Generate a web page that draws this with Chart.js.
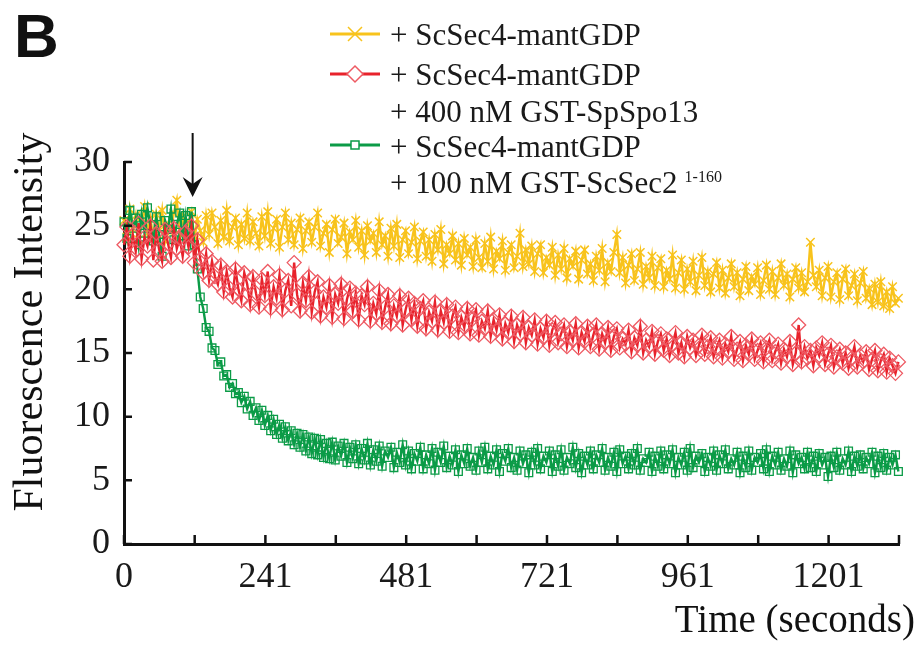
<!DOCTYPE html>
<html>
<head>
<meta charset="utf-8">
<script src="https://cdn.jsdelivr.net/npm/chart.js@4.4.1/dist/chart.umd.min.js"></script>
<style>
  html, body { margin: 0; padding: 0; background: #fff; }
  canvas { display: block; }
</style>
</head>
<body>
<canvas id="chart" width="921" height="645"></canvas>
<script>
// sample times (seconds)
const times = [
  0, 5, 10, 15, 20, 25, 30, 35, 40, 45, 50, 55, 60, 65, 70, 75, 80, 85, 90, 95,
  100, 105, 110, 115, 120, 125, 130, 135, 140, 145, 150, 155, 160, 165, 170, 175, 180, 185, 190, 195,
  200, 205, 210, 215, 220, 225, 230, 235, 240, 245, 250, 255, 260, 265, 270, 275, 280, 285, 290, 295,
  300, 305, 310, 315, 320, 325, 330, 335, 340, 345, 350, 355, 360, 365, 370, 375, 380, 385, 390, 395,
  400, 405, 410, 415, 420, 425, 430, 435, 440, 445, 450, 455, 460, 465, 470, 475, 480, 485, 490, 495,
  500, 505, 510, 515, 520, 525, 530, 535, 540, 545, 550, 555, 560, 565, 570, 575, 580, 585, 590, 595,
  600, 605, 610, 615, 620, 625, 630, 635, 640, 645, 650, 655, 660, 665, 670, 675, 680, 685, 690, 695,
  700, 705, 710, 715, 720, 725, 730, 735, 740, 745, 750, 755, 760, 765, 770, 775, 780, 785, 790, 795,
  800, 805, 810, 815, 820, 825, 830, 835, 840, 845, 850, 855, 860, 865, 870, 875, 880, 885, 890, 895,
  900, 905, 910, 915, 920, 925, 930, 935, 940, 945, 950, 955, 960, 965, 970, 975, 980, 985, 990, 995,
  1000, 1005, 1010, 1015, 1020, 1025, 1030, 1035, 1040, 1045, 1050, 1055, 1060, 1065, 1070, 1075, 1080, 1085, 1090, 1095,
  1100, 1105, 1110, 1115, 1120, 1125, 1130, 1135, 1140, 1145, 1150, 1155, 1160, 1165, 1170, 1175, 1180, 1185, 1190, 1195,
  1200, 1205, 1210, 1215, 1220, 1225, 1230, 1235, 1240, 1245, 1250, 1255, 1260, 1265, 1270, 1275, 1280, 1285, 1290, 1295,
  1300, 1305, 1310, 1315, 1320
];

// + ScSec4-mantGDP
const sec4Only = [
  25.4, 24.1, 26.3, 24.7, 25.8, 23.9, 25.2, 26.5, 24.4, 25.6, 24.0, 25.9, 24.6, 26.2, 23.8, 25.1, 24.5, 26.0, 27.0, 24.3,
  25.7, 24.2, 25.3, 26.1, 23.9, 25.5, 24.6, 23.7, 25.8, 24.3, 26.0, 24.9, 23.6, 25.4, 24.1, 26.2, 23.8, 24.9, 25.6, 23.5,
  25.1, 24.0, 26.0, 23.8, 25.3, 24.4, 23.4, 25.7, 24.2, 26.1, 23.6, 24.8, 25.5, 23.3, 24.9, 26.0, 23.9, 25.2, 23.5, 24.7,
  25.6, 23.2, 24.6, 25.3, 23.7, 24.9, 26.0, 23.4, 24.4, 25.1, 22.9, 24.7, 25.5, 23.6, 24.1, 25.2, 22.8, 24.5, 23.9, 25.4,
  23.3, 24.6, 22.7, 25.0, 23.8, 24.4, 22.9, 25.3, 23.5, 24.2, 22.6, 24.8, 23.4, 25.1, 22.5, 23.9, 24.6, 22.8, 23.7, 24.9,
  22.4, 23.8, 24.5, 22.6, 23.9, 22.2, 24.3, 23.1, 24.7, 22.0, 23.5, 22.8, 24.2, 22.3, 23.6, 21.9, 24.0, 22.7, 23.3, 21.8,
  23.9, 22.5, 21.7, 23.6, 22.2, 24.1, 21.6, 23.0, 22.4, 23.8, 21.5, 22.9, 23.5, 21.7, 22.6, 24.4, 21.8, 23.1, 22.0, 23.4,
  21.4, 22.8, 23.5, 21.3, 22.5, 21.9, 23.3, 21.1, 22.7, 21.6, 23.2, 20.9, 22.4, 21.8, 23.0, 20.8, 22.3, 23.1, 21.2, 22.0,
  20.7, 22.6, 21.5, 23.2, 20.6, 22.1, 21.4, 22.9, 24.3, 21.3, 22.5, 20.5, 21.9, 22.8, 20.7, 21.6, 22.9, 20.4, 21.8, 20.9,
  22.6, 20.3, 21.7, 22.4, 20.2, 21.5, 20.8, 22.7, 20.1, 21.3, 22.3, 20.0, 21.6, 20.6, 22.2, 19.9, 21.1, 22.5, 20.3, 21.4,
  19.8, 21.2, 22.1, 20.1, 21.5, 19.7, 20.9, 22.0, 20.2, 21.3, 19.5, 20.8, 21.8, 19.9, 21.0, 20.4, 21.7, 19.6, 20.7, 21.9,
  20.0, 21.4, 19.6, 20.9, 22.0, 20.3, 21.2, 19.4, 20.8, 21.7, 20.1, 21.3, 19.8, 20.6, 23.7, 21.1, 20.2, 21.5, 19.5, 20.9,
  21.8, 19.4, 20.6, 21.3, 19.2, 20.8, 21.6, 19.5, 20.3, 21.2, 19.1, 20.5, 21.4, 19.3, 20.1, 18.8, 20.4, 19.0, 20.6, 18.7,
  19.8, 18.5, 20.2, 18.9, 19.3
];

// + ScSec4-mantGDP + 400 nM GST-SpSpo13
const withSpo13 = [
  23.5, 24.9, 22.6, 24.3, 23.0, 25.2, 22.4, 24.1, 23.4, 25.0, 22.3, 24.4, 23.1, 22.2, 24.7, 23.6, 22.5, 24.8, 23.2, 24.0,
  22.6, 24.5, 23.3, 25.0, 22.1, 23.9, 22.4, 21.3, 22.8, 20.7, 22.2, 21.0, 20.4, 21.9, 19.8, 21.4, 20.1, 19.4, 21.6, 20.0,
  19.1, 21.3, 20.4, 18.8, 21.0, 19.7, 18.6, 20.8, 19.5, 21.4, 18.5, 20.2, 19.3, 21.1, 18.4, 19.9, 20.7, 18.7, 22.1, 19.6,
  18.3, 20.5, 19.1, 21.0, 18.2, 19.8, 20.6, 17.9, 19.4, 18.6, 20.3, 17.8, 19.6, 18.9, 20.4, 17.7, 19.2, 20.1, 18.3, 19.7,
  17.6, 19.5, 18.8, 20.2, 17.5, 18.9, 18.1, 19.9, 17.4, 18.6, 19.6, 17.3, 18.7, 17.9, 19.5, 17.2, 18.4, 19.3, 17.6, 18.9,
  17.1, 18.5, 19.1, 16.9, 18.2, 17.5, 19.0, 16.8, 18.3, 17.4, 18.8, 16.7, 17.9, 18.6, 16.6, 17.8, 17.0, 18.5, 16.5, 17.7,
  18.4, 16.4, 17.5, 16.9, 18.3, 16.3, 17.6, 16.8, 18.0, 16.1, 17.3, 16.6, 17.9, 15.9, 17.2, 16.5, 17.8, 15.8, 17.0, 16.4,
  17.6, 15.7, 16.9, 16.2, 17.5, 15.6, 16.8, 17.4, 15.8, 16.5, 17.2, 15.5, 16.7, 16.0, 17.3, 15.4, 16.6, 15.9, 17.1, 15.5,
  16.4, 17.2, 15.3, 16.5, 15.8, 17.0, 15.2, 16.3, 16.9, 15.4, 16.1, 15.7, 16.8, 15.1, 16.2, 15.6, 17.1, 15.0, 16.0, 15.5,
  16.7, 14.9, 15.9, 16.5, 15.2, 16.1, 14.8, 15.7, 16.6, 15.0, 15.8, 14.7, 16.3, 15.4, 16.0, 14.8, 15.6, 16.4, 14.9, 15.5,
  16.2, 14.7, 15.4, 16.0, 14.6, 15.7, 15.1, 16.3, 14.5, 15.3, 15.9, 14.4, 15.6, 14.9, 16.1, 14.5, 15.2, 15.8, 14.3, 15.4,
  16.0, 14.4, 15.1, 15.7, 14.2, 15.3, 14.7, 15.9, 14.1, 15.0, 17.2, 14.3, 15.5, 14.6, 15.2, 14.0, 15.4, 14.8, 15.8, 14.1,
  14.9, 15.6, 13.9, 14.7, 15.3, 14.2, 15.0, 13.8, 14.6, 15.5, 13.9, 14.8, 14.3, 15.1, 13.7, 14.5, 15.2, 13.6, 14.4, 14.9,
  13.5, 14.6, 14.0, 13.4, 14.3
];

// + ScSec4-mantGDP + 100 nM GST-ScSec2 1-160
const withSec2 = [
  25.3, 24.0, 26.2, 24.8, 25.6, 23.5, 25.9, 24.4, 26.4, 25.0, 23.8, 25.7, 24.3, 22.6, 25.4, 24.7, 26.3, 23.9, 25.1, 26.0,
  24.2, 25.8, 23.4, 26.1, 23.5, 21.6, 19.4, 18.5, 17.0, 16.7, 15.4, 15.2, 14.1, 14.3, 13.2, 13.3, 12.3, 12.6, 11.8, 11.9,
  11.1, 11.6, 10.6, 11.2, 10.1, 10.7, 9.7, 10.5, 9.3, 10.1, 8.9, 9.8, 8.6, 9.4, 8.3, 9.2, 8.1, 8.9, 7.8, 8.7,
  7.6, 8.6, 7.3, 8.4, 7.1, 8.3, 7.0, 8.2, 6.8, 7.9, 6.7, 8.0, 6.6, 7.7, 6.9, 7.9, 6.4, 7.6, 6.7, 7.8,
  6.3, 7.5, 6.6, 7.9, 6.2, 7.4, 6.5, 7.7, 6.1, 7.3, 6.8, 7.6, 6.0, 7.2, 6.4, 7.8, 6.2, 7.3, 5.9, 7.1,
  6.5, 7.6, 5.9, 7.0, 6.3, 7.5, 5.8, 7.2, 6.4, 7.7, 6.0, 6.9, 6.2, 7.4, 5.7, 7.0, 6.3, 7.5, 6.1, 6.8,
  5.8, 7.3, 6.4, 7.6, 5.9, 6.9, 6.2, 7.4, 5.7, 7.1, 6.5, 7.5, 6.0, 6.8, 5.8, 7.3, 6.3, 7.0, 5.6, 7.2,
  6.2, 7.5, 5.9, 6.9, 6.4, 7.3, 5.7, 7.0, 6.1, 7.4, 5.8, 6.8, 6.3, 7.6, 6.0, 7.1, 5.6, 6.9, 6.2, 7.3,
  5.9, 7.0, 6.4, 7.5, 5.8, 6.8, 6.1, 7.2, 5.7, 7.4, 6.3, 6.9, 5.9, 7.1, 6.2, 7.5, 5.8, 6.7, 6.4, 7.2,
  5.7, 6.9, 6.1, 7.3, 5.9, 7.0, 6.3, 7.4, 5.6, 6.8, 6.2, 7.2, 5.8, 7.5, 6.0, 6.9, 6.4, 7.1, 5.7, 6.8,
  6.1, 7.3, 5.8, 7.0, 6.3, 7.4, 5.9, 6.7, 6.2, 7.2, 5.6, 6.9, 6.0, 7.3, 5.8, 6.8, 6.4, 7.1, 5.9, 7.4,
  5.7, 6.9, 6.2, 7.2, 5.8, 6.7, 6.1, 7.3, 5.6, 7.0, 6.3, 6.8, 5.9, 7.2, 6.0, 6.9, 5.7, 7.1, 6.2, 6.8,
  5.3, 6.9, 6.0, 7.2, 5.8, 6.7, 6.2, 7.3, 5.7, 6.9, 6.1, 7.0, 5.9, 6.8, 6.3, 7.2, 5.6, 6.9, 6.0, 7.1,
  5.8, 6.8, 6.2, 7.0, 5.7
];

const xTickValues = [0, 120.5, 241, 361, 481, 601, 721, 841, 961, 1081, 1201, 1321];
const xTickLabels = ['0', '', '241', '', '481', '', '721', '', '961', '', '1201', ''];
const yTickValues = [0, 5, 10, 15, 20, 25, 30];
const arrowTime = 117; // time of the addition (arrow)

const YELLOW = '#F8C31C';
const RED = '#E8222B';
const RED_MARK = '#EE5A63';
const GREEN = '#0B9B47';
const SERIF = '"Liberation Serif", "Times New Roman", serif';

const toPoints = vals => vals.map((v, i) => ({ x: times[i], y: v }));

const decor = {
  id: 'decor',
  beforeDraw(chart) {
    const c = chart.ctx;
    c.save();
    c.fillStyle = '#fff';
    c.fillRect(0, 0, chart.width, chart.height);
    c.restore();
  },
  afterDraw(chart) {
    const c = chart.ctx;
    const xs = chart.scales.x, ys = chart.scales.y;
    const area = chart.chartArea;
    c.save();
    c.strokeStyle = '#111';
    c.fillStyle = '#111';

    // inward tick marks
    c.lineWidth = 2.5;
    c.beginPath();
    xTickValues.forEach(v => {
      const px = xs.getPixelForValue(v);
      c.moveTo(px, area.bottom);
      c.lineTo(px, area.bottom - 9);
    });
    yTickValues.forEach(v => {
      const py = ys.getPixelForValue(v);
      c.moveTo(area.left, py);
      c.lineTo(area.left + 8, py);
    });
    c.stroke();

    // arrow at the addition
    const ax = xs.getPixelForValue(arrowTime);
    c.lineWidth = 2;
    c.beginPath();
    c.moveTo(ax, 133);
    c.lineTo(ax, 186);
    c.stroke();
    c.beginPath();
    c.moveTo(ax, 197);
    c.lineTo(ax - 10, 177);
    c.lineTo(ax, 184);
    c.lineTo(ax + 10, 177);
    c.closePath();
    c.fill();

    // panel letter
    c.font = 'bold 62px "Liberation Sans", Arial, sans-serif';
    c.textAlign = 'left';
    c.textBaseline = 'alphabetic';
    c.fillText('B', 14, 57);

    // axis titles
    c.font = '39px ' + SERIF;
    c.textAlign = 'right';
    c.fillText('Time (seconds)', 915, 632);

    c.save();
    c.translate(42, 322);
    c.rotate(-Math.PI / 2);
    c.font = '42px ' + SERIF;
    c.textAlign = 'center';
    c.fillText('Fluorescence Intensity', 0, 0);
    c.restore();

    // legend
    const lx0 = 330, lx1 = 380, mx = 355, tx = 390;
    c.lineWidth = 3;
    // yellow
    c.strokeStyle = YELLOW;
    c.beginPath(); c.moveTo(lx0, 34); c.lineTo(lx1, 34); c.stroke();
    c.lineWidth = 1.5;
    c.beginPath();
    c.moveTo(mx - 7, 27); c.lineTo(mx + 7, 41);
    c.moveTo(mx + 7, 27); c.lineTo(mx - 7, 41);
    c.stroke();
    // red
    c.lineWidth = 3;
    c.strokeStyle = RED;
    c.beginPath(); c.moveTo(lx0, 74); c.lineTo(lx1, 74); c.stroke();
    c.lineWidth = 1.5;
    c.strokeStyle = RED_MARK;
    c.fillStyle = '#fff';
    c.beginPath();
    c.moveTo(mx, 66); c.lineTo(mx + 8, 74); c.lineTo(mx, 82); c.lineTo(mx - 8, 74);
    c.closePath(); c.fill(); c.stroke();
    // green
    c.lineWidth = 3;
    c.strokeStyle = GREEN;
    c.beginPath(); c.moveTo(lx0, 145); c.lineTo(lx1, 145); c.stroke();
    c.lineWidth = 1.5;
    c.fillStyle = '#fff';
    c.fillRect(mx - 4, 141, 8, 8);
    c.strokeRect(mx - 4, 141, 8, 8);

    c.fillStyle = '#1a1a1a';
    c.font = '31px ' + SERIF;
    c.textAlign = 'left';
    c.fillText('+ ScSec4-mantGDP', tx, 45);
    c.fillText('+ ScSec4-mantGDP', tx, 85);
    c.fillText('+ 400 nM GST-SpSpo13', tx, 122);
    c.fillText('+ ScSec4-mantGDP', tx, 157);
    const last = '+ 100 nM GST-ScSec2';
    c.fillText(last, tx, 193);
    const w = c.measureText(last).width;
    c.font = '16px ' + SERIF;
    c.fillText('1-160', tx + w + 7, 182);
    c.restore();
  }
};

const tickFont = { family: SERIF, size: 36 };

new Chart(document.getElementById('chart').getContext('2d'), {
  type: 'scatter',
  data: {
    datasets: [
      {
        label: '+ ScSec4-mantGDP',
        data: toPoints(sec4Only),
        showLine: true,
        borderColor: YELLOW,
        borderWidth: 2.4,
        pointStyle: 'crossRot',
        pointRadius: 6,
        pointBorderColor: YELLOW,
        pointBorderWidth: 1.5,
        order: 3,
        clip: 8
      },
      {
        label: '+ ScSec4-mantGDP + 400 nM GST-SpSpo13',
        data: toPoints(withSpo13),
        showLine: true,
        borderColor: RED,
        borderWidth: 2.4,
        pointStyle: 'rectRot',
        pointRadius: 7,
        pointBackgroundColor: 'rgba(255,255,255,0)',
        pointBorderColor: RED_MARK,
        pointBorderWidth: 1.3,
        order: 1,
        clip: 8
      },
      {
        label: '+ ScSec4-mantGDP + 100 nM GST-ScSec2 1-160',
        data: toPoints(withSec2),
        showLine: true,
        borderColor: GREEN,
        borderWidth: 2.4,
        pointStyle: 'rect',
        pointRadius: 5.5,
        pointBackgroundColor: 'rgba(255,255,255,0)',
        pointBorderColor: GREEN,
        pointBorderWidth: 1.3,
        order: 2,
        clip: 8
      }
    ]
  },
  options: {
    responsive: false,
    animation: false,
    layout: { padding: { top: 162, right: 22, left: 0, bottom: 0 } },
    plugins: { legend: { display: false }, tooltip: { enabled: false } },
    scales: {
      x: {
        type: 'linear',
        min: 0,
        max: 1321,
        afterBuildTicks: s => { s.ticks = xTickValues.map(v => ({ value: v })); },
        afterFit: s => { s.height = 101; },
        ticks: {
          callback: (v, i) => xTickLabels[i],
          font: tickFont,
          color: '#1a1a1a',
          padding: 12,
          maxRotation: 0,
          autoSkip: false
        },
        grid: { display: false, drawTicks: false },
        border: { display: true, color: '#111', width: 3 }
      },
      y: {
        min: 0,
        max: 30,
        afterBuildTicks: s => { s.ticks = yTickValues.map(v => ({ value: v })); },
        afterFit: s => { s.width = 124; },
        ticks: {
          font: tickFont,
          color: '#1a1a1a',
          padding: 14,
          autoSkip: false
        },
        grid: { display: false, drawTicks: false },
        border: { display: true, color: '#111', width: 3 }
      }
    }
  },
  plugins: [decor]
});
</script>
</body>
</html>
